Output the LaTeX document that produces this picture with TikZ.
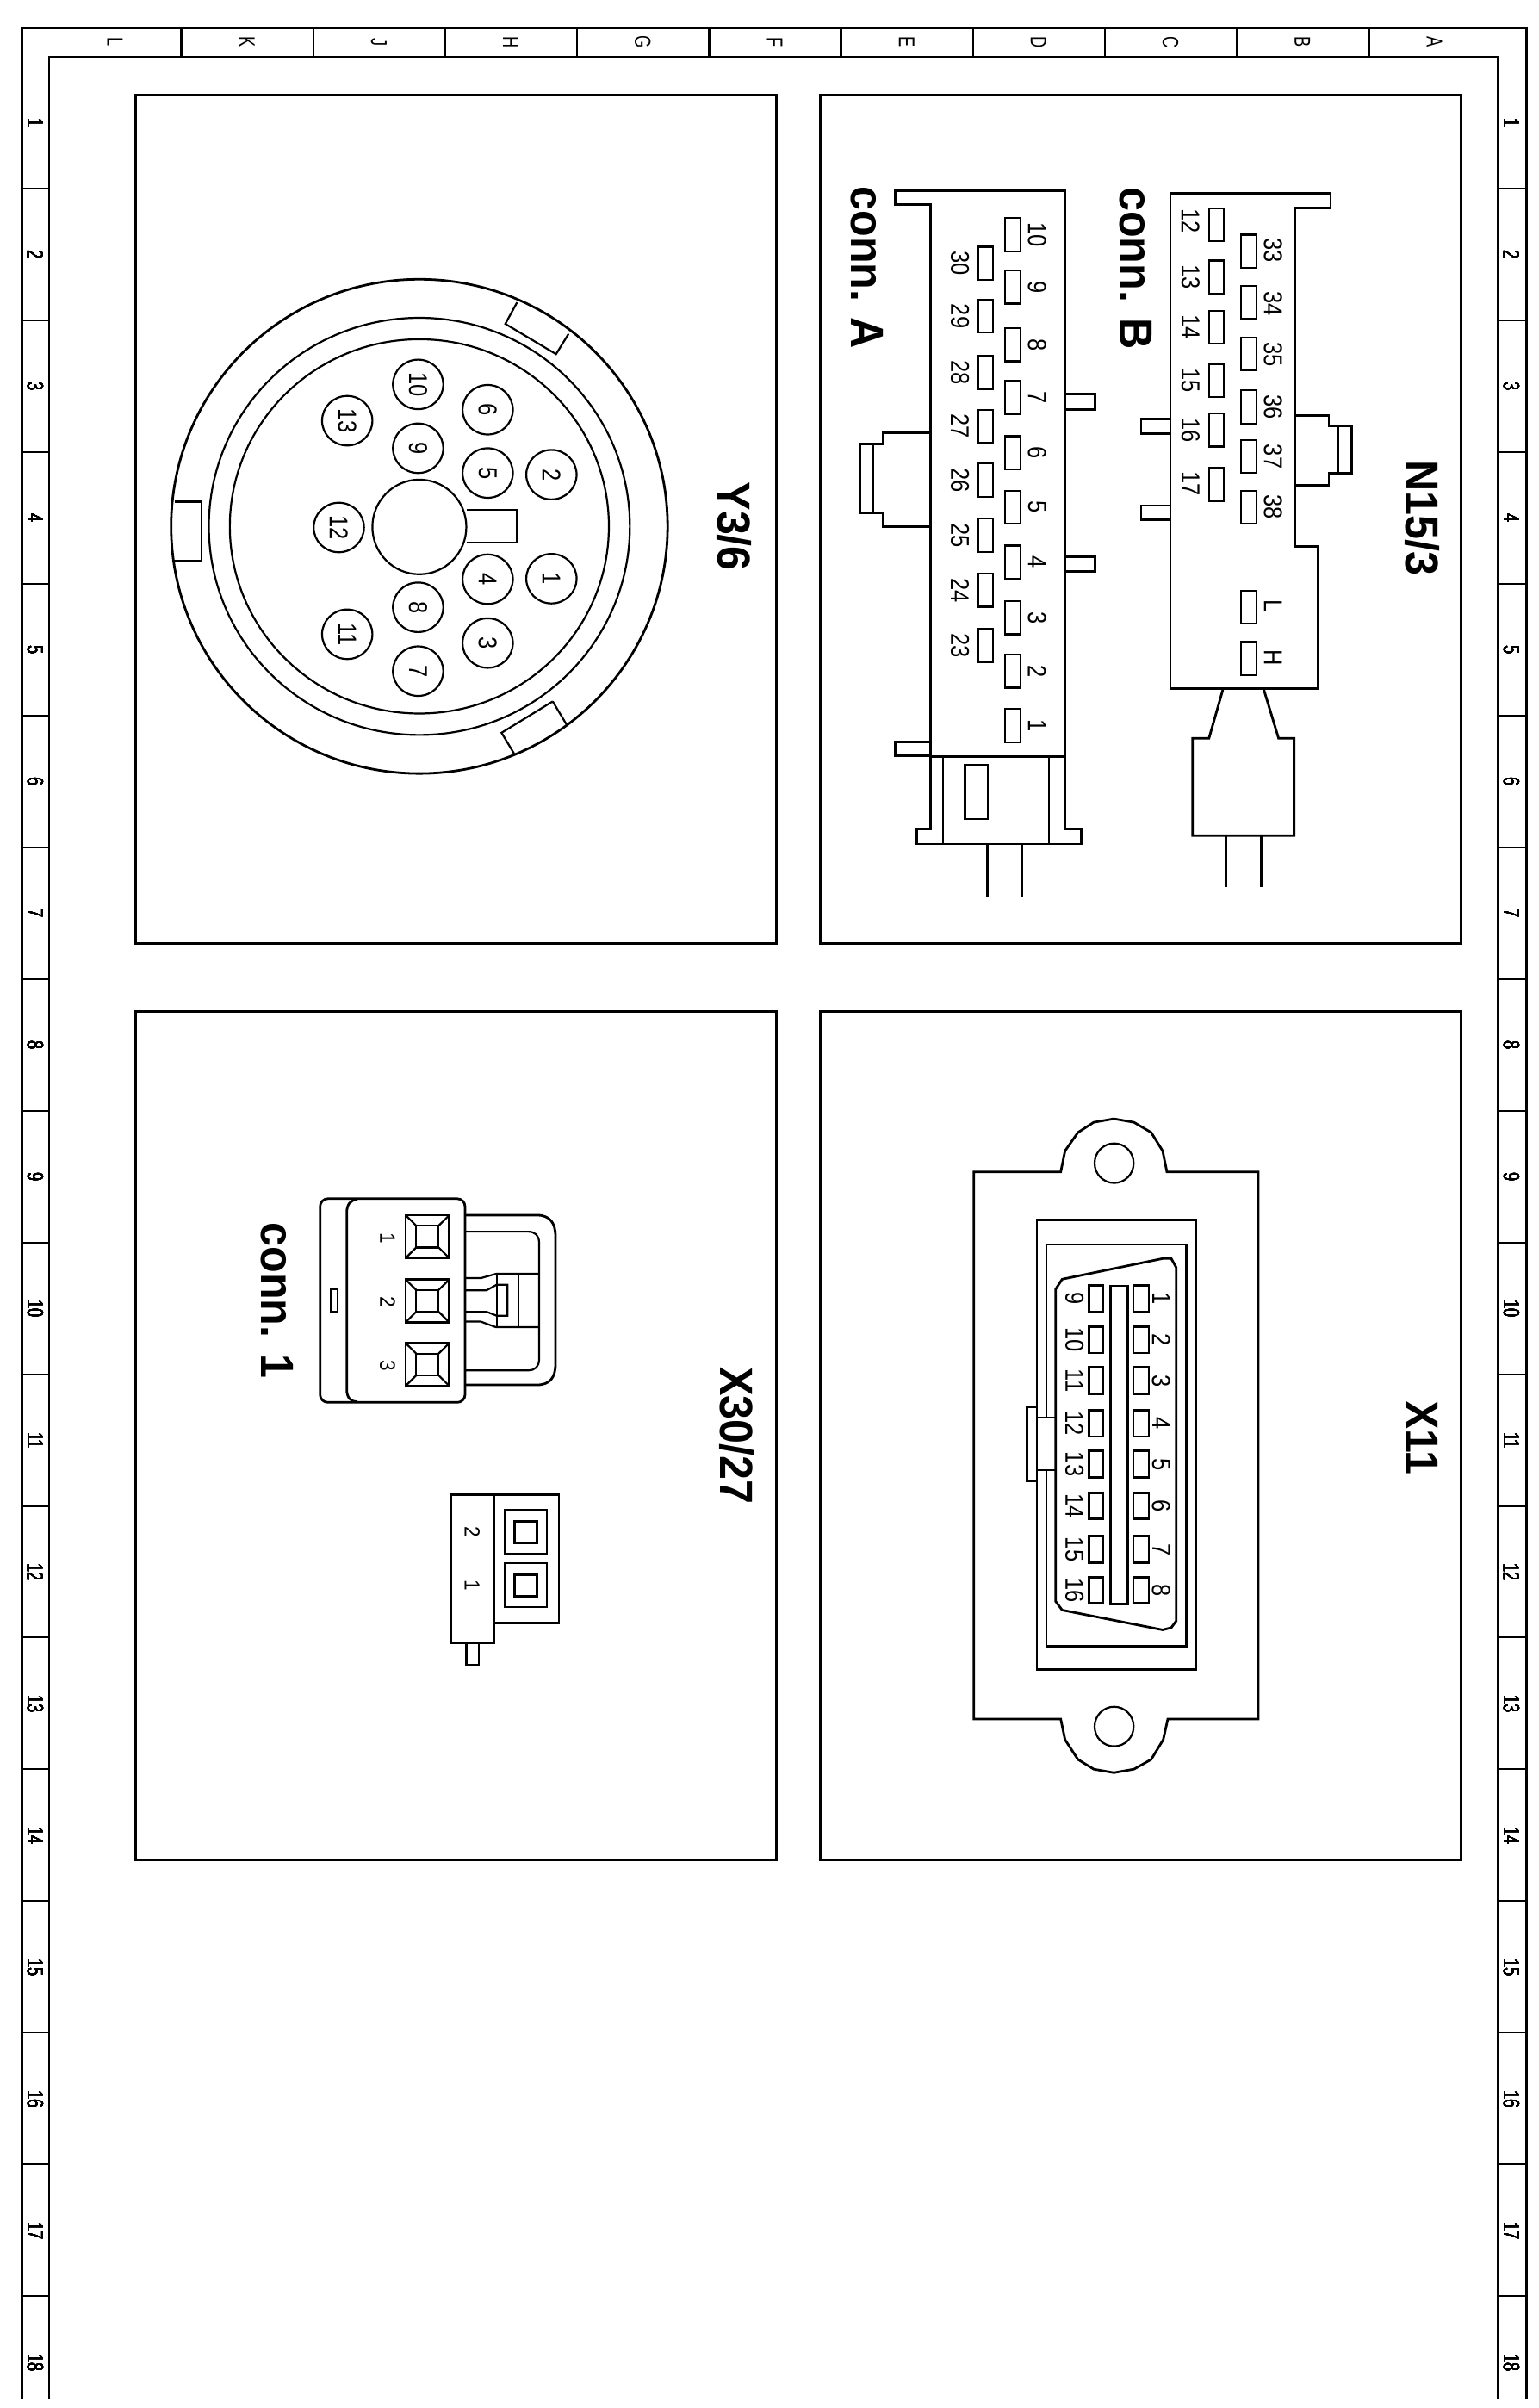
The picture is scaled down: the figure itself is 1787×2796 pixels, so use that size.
\documentclass[tikz,border=0pt]{standalone}
\usepackage{fontspec}
\setmainfont{Liberation Sans}
\newcounter{lb}
\newcommand\tx[4][smalllbl]{\stepcounter{lb}\node[#1] (n\arabic{lb}) at (#2,#3) {#4};}
\tikzset{
  framelbl/.style={rotate=-90,xscale=.7,inner sep=0pt,font=\fontsize{26}{30}\selectfont},
  smalllbl/.style={rotate=-90,xscale=.85,inner sep=0pt,font=\fontsize{30}{36}\selectfont},
  tinylbl/.style={rotate=-90,xscale=.9,inner sep=0pt,font=\fontsize{25}{30}\selectfont},
  titlelbl/.style={rotate=-90,xscale=.93,inner sep=0pt,font=\fontsize{54}{60}\selectfont\bfseries},
  heavy/.style={line width=2.8pt,line join=miter},
  medium/.style={line width=2.2pt,line join=miter},
  zoomA/.style={shift={(950,100)},x=0.4869pt,y=-0.639pt},
  zoomB/.style={shift={(150,100)},x=0.4869pt,y=-0.639pt},
  zoomC/.style={shift={(1080,1270)},x=0.3333pt,y=-0.5102pt},
  zoomD/.style={shift={(270,1370)},x=0.3333pt,y=-0.3827pt},
}
\begin{document}
\begin{tikzpicture}[x=1pt,y=-1pt]
\useasboundingbox (0,0) rectangle (1787,2796);
\fill[white] (0,0) rectangle (1787,2796);
% ---------- sheet frame
\draw[line width=3pt] (25,2786) -- (25,33) -- (1772,33) -- (1772,2786);
\draw[line width=2pt] (57,2786) -- (57,66) -- (1739,66) -- (1739,2786);
\foreach \k in {0,...,9} \draw[line width=2.4pt] ({210.5+153.2*\k},33) -- ({210.5+153.2*\k},66);
\foreach \k in {0,...,16} {
  \draw[line width=2pt] (25,{219+152.95*\k}) -- (57,{219+152.95*\k});
  \draw[line width=2pt] (1739,{219+152.95*\k}) -- (1772,{219+152.95*\k});
}
\foreach \t/\k in {L/0,K/1,J/2,H/3,G/4,F/5,E/6,D/7,C/8,B/9,A/10}
  \tx[framelbl]{{133.5+153.2*\k}}{49}{\t}
\foreach \k in {1,...,18} {
  \tx[framelbl]{41}{{143+152.95*(\k-1)}}{\k}
  \tx[framelbl]{1755}{{143+152.95*(\k-1)}}{\k}
}
% ---------- panels
\draw[line width=3pt] (952.5,111) rectangle (1696,1095);
\draw[line width=3pt] (157,111) rectangle (901,1095);
\draw[line width=3pt] (952.5,1174) rectangle (1696,2159);
\draw[line width=3pt] (157,1174) rectangle (901,2159);
% ---------- N15/3
\begin{scope}[zoomA]
\tx[titlelbl]{1441}{785}{N15/3}
\tx[titlelbl]{757}{331}{conn. B}
\tx[titlelbl]{117}{330}{conn. A}
% conn A
\draw[heavy] (268,215) -- (183,215) -- (183,190) -- (588,190) -- (588,1350) -- (628,1350) -- (628,1377) -- (235,1377) -- (235,1350) -- (268,1350) -- cycle;
\draw[heavy] (268,1218) -- (588,1218);
\draw[medium] (298,1218) -- (298,1377) (550,1218) -- (550,1377);
\draw[medium] (350,1233) rectangle (405,1332);
\draw[heavy] (403,1377) -- (403,1472) (485,1377) -- (485,1472);
\draw[heavy] (268,1192) -- (183,1192) -- (183,1217) -- (268,1217);
\draw[heavy] (590,560) -- (660,560) -- (660,588) -- (590,588);
\draw[heavy] (590,855) -- (660,855) -- (660,882) -- (590,882);
\draw[heavy] (268,630) -- (155,630) -- (155,650) -- (100,650) -- (100,775) -- (155,775) -- (155,800) -- (268,800);
\draw[heavy] (130,650) -- (130,775);
\foreach \n/\y in {10/270,9/365,8/470,7/566,6/666,5/765,4/865,3/966,2/1063,1/1162} {
  \draw[medium] (445,\y-30) rectangle (482,\y+30);
  \tx{522}{\y}{\n}
}
\foreach \n/\y in {30/322,29/418,28/520,27/618,26/716,25/816,24/916,23/1016} {
  \draw[medium] (381,\y-30) rectangle (417,\y+30);
  \tx{338}{\y}{\n}
}
% conn B
\draw[heavy] (1222,195) -- (840,195) -- (840,1095) -- (1192,1095) -- (1192,837) -- (1137,837) -- (1137,222) -- (1222,222) -- cycle;
\draw[heavy] (838,605) -- (770,605) -- (770,632) -- (838,632);
\draw[heavy] (838,762) -- (770,762) -- (770,788) -- (838,788);
\draw[heavy] (1137,598) -- (1218,598) -- (1218,618) -- (1272,618) -- (1272,703) -- (1218,703) -- (1218,725) -- (1137,725);
\draw[heavy] (1240,618) -- (1240,703);
\draw[heavy] (965,1097) -- (932,1185) -- (893,1185) -- (893,1362) -- (1135,1362) -- (1135,1185) -- (1098,1185) -- (1063,1097);
\draw[heavy] (973,1362) -- (973,1455) (1057,1362) -- (1057,1455);
\foreach \n/\y/\t in {12/252/245,13/347/347,14/438/438,15/535/535,16/625/625,17/724/722} {
  \draw[medium] (932,\y-30) rectangle (968,\y+30);
  \tx{888}{\t}{\n}
}
\foreach \n/\y/\t in {33/300/298,34/393/395,35/487/487,36/583/583,37/673/673,38/765/765,L/947/945,H/1040/1038} {
  \draw[medium] (1008,\y-30) rectangle (1045,\y+30);
  \tx{1085}{\t}{\n}
}
\end{scope}
% ---------- Y3/6
\begin{scope}[zoomB]
\tx[titlelbl]{1442}{800}{Y3/6}
\draw[heavy] (692,800) ellipse [x radius=592,y radius=449];
\draw[medium] (692,800) ellipse [x radius=502,y radius=379];
\draw[medium] (692,800) ellipse [x radius=452,y radius=340];
\draw[medium] (692,801) ellipse [x radius=112,y radius=86];
\draw[medium] (805,770) -- (925,770) -- (925,830) -- (805,830);
\draw[medium] (108,755) -- (172,755) -- (172,862) -- (108,862);
\draw[medium] (925,393) -- (897,432) -- (1018,487) -- (1048,450);
\draw[medium] (1010,1118) -- (888,1175) -- (918,1213) (1010,1118) -- (1043,1160);
\foreach \n/\cx/\cy in {1/1007/895,2/1007/706,3/855/1012,4/855/896,5/855/703,6/855/588,7/689/1063,8/689/947,9/689/658,10/689/542,11/520/996,12/500/802,13/520/608} {
  \draw[medium] (\cx,\cy) ellipse [x radius=60,y radius=45];
  \tx{\cx}{\cy}{\n}
}
\end{scope}
% ---------- X11
\begin{scope}[zoomC]
\tx[titlelbl]{1712}{783}{X11}
\draw[heavy] (152,178) -- (455,178) -- (470,130) -- (515,88) -- (570,65) -- (640,57) -- (710,65) -- (770,88) -- (810,130) -- (825,178) -- (1143,178) -- (1143,1423) -- (828,1423) -- (812,1470) -- (770,1515) -- (710,1537) -- (640,1545) -- (570,1537) -- (515,1515) -- (470,1470) -- (455,1423) -- (152,1423) -- cycle;
\draw[medium] (641,158) ellipse [x radius=68,y radius=45];
\draw[medium] (641,1440) ellipse [x radius=68,y radius=45];
\draw[heavy] (372,287) -- (925,287) -- (925,1310) -- (372,1310) -- (372,882) -- (338,882) -- (338,712) -- (372,712) -- cycle;
\draw[heavy] (405,343) -- (893,343) -- (893,1258) -- (405,1258) -- (405,857);
\draw[heavy] (405,737) -- (405,343);
\draw[medium] (372,737) -- (437,737) (372,857) -- (437,857);
\draw[heavy] (372,712) -- (372,882);
\draw[heavy] (437,445) -- (460,422) -- (810,375) -- (840,375) -- (857,395) -- (857,1200) -- (840,1215) -- (810,1220) -- (460,1175) -- (437,1155) -- cycle;
\draw[heavy] (628,437) rectangle (688,1162);
\foreach \n/\y in {1/466,2/560,3/653,4/750,5/843,6/938,7/1037,8/1130} {
  \draw[heavy] (708,\y-30) rectangle (762,\y+30);
  \tx{805}{\y}{\n}
}
\foreach \n/\y in {9/466,10/560,11/653,12/750,13/843,14/938,15/1037,16/1130} {
  \draw[heavy] (553,\y-30) rectangle (603,\y+30);
  \tx{503}{\y}{\n}
}
\end{scope}
% ---------- X30/27
\begin{scope}[zoomD]
\tx[titlelbl]{1758}{775}{X30/27}
\tx[titlelbl]{155}{365}{conn. 1}
\draw[heavy,rounded corners=9pt] (305,57) rectangle (810,675);
\draw[heavy] (435,60) .. controls (410,60) and (398,75) .. (398,100) -- (398,635) .. controls (398,660) and (410,673) .. (435,673);
\draw[medium] (342,332) rectangle (365,400);
\foreach \n/\y in {1/172,2/367,3/560} {
  \draw[heavy] (603,\y-65) rectangle (755,\y+65);
  \draw[medium] (640,\y-33) rectangle (718,\y+33);
  \draw[medium] (603,\y-65) -- (640,\y-33) (755,\y-65) -- (718,\y-33) (603,\y+65) -- (640,\y+33) (755,\y+65) -- (718,\y+33);
  \tx[tinylbl]{540}{\y+4}{\n}
}
\draw[heavy] (810,107) -- (1060,107) .. controls (1105,107) and (1125,130) .. (1125,170) -- (1125,560) .. controls (1125,600) and (1105,622) .. (1060,622) -- (810,622);
\draw[medium] (810,157) -- (1030,157) .. controls (1055,157) and (1068,170) .. (1068,190) -- (1068,545) .. controls (1068,565) and (1055,578) .. (1030,578) -- (810,578);
\draw[medium] (810,298) -- (865,298) -- (918,285) -- (1068,285);
\draw[medium] (810,335) -- (885,335) -- (920,318) -- (958,318) -- (958,412) -- (920,412) -- (885,400) -- (810,400);
\draw[medium] (810,430) -- (865,430) -- (918,447) -- (1068,447);
\draw[medium] (920,285) -- (920,447) (995,285) -- (995,447);
% two-pole connector
\draw[heavy] (760,955) -- (1137,955) -- (1137,1345) -- (912,1345) -- (912,1405) -- (760,1405) -- cycle;
\draw[heavy] (910,955) -- (910,1345);
\draw[heavy] (815,1408) -- (815,1473) -- (858,1473) -- (858,1408);
\draw[medium] (947,1002) rectangle (1095,1133);
\draw[heavy] (982,1035) rectangle (1060,1102);
\draw[medium] (947,1163) rectangle (1095,1295);
\draw[heavy] (982,1197) rectangle (1060,1263);
\tx[tinylbl]{835}{1068}{2}
\tx[tinylbl]{835}{1230}{1}
\end{scope}
\end{tikzpicture}
\end{document}
